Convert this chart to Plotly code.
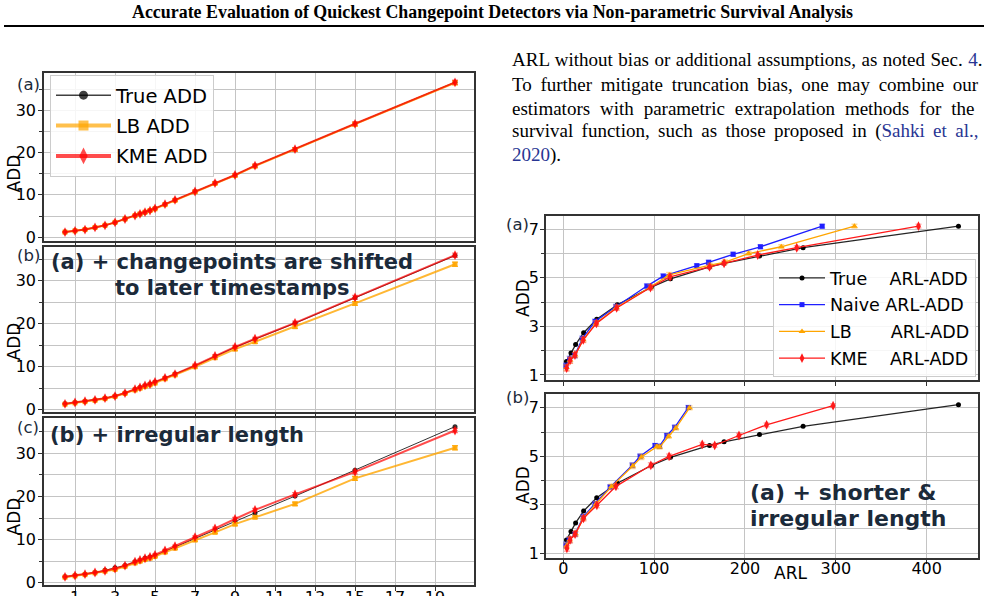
import plotly.graph_objects as go

W, H = 988, 596

# ---------------- data: left figure (threshold vs ADD) ----------------
thr = [0.5, 1, 1.5, 2, 2.5, 3, 3.5, 4, 4.25, 4.5, 4.75, 5, 5.5, 6, 7, 8, 9, 10, 12, 15, 20]

a_true = [1.2, 1.5, 1.8, 2.3, 2.8, 3.5, 4.3, 5.1, 5.5, 5.9, 6.3, 6.8, 7.8, 8.8, 10.8, 12.8, 14.7, 16.9, 20.8, 26.8, 36.6]
a_lb   = [1.2, 1.5, 1.8, 2.3, 2.8, 3.5, 4.3, 5.1, 5.5, 5.9, 6.3, 6.7, 7.7, 8.7, 10.7, 12.7, 14.6, 16.8, 20.7, 26.7, 36.5]
a_kme  = [1.2, 1.5, 1.8, 2.3, 2.8, 3.5, 4.3, 5.1, 5.5, 5.9, 6.3, 6.8, 7.8, 8.8, 10.8, 12.8, 14.7, 16.9, 20.8, 26.8, 36.6]

b_true = [1.4, 1.7, 2.0, 2.3, 2.7, 3.2, 3.9, 4.7, 5.2, 5.6, 6.0, 6.4, 7.4, 8.3, 10.2, 12.4, 14.5, 16.4, 20.1, 26.0, 35.8]
b_lb   = [1.3, 1.6, 1.9, 2.2, 2.6, 3.1, 3.8, 4.6, 5.0, 5.4, 5.8, 6.2, 7.2, 8.1, 10.0, 12.1, 14.1, 15.8, 19.3, 24.7, 33.8]
b_kme  = [1.4, 1.7, 2.0, 2.3, 2.7, 3.2, 3.9, 4.8, 5.2, 5.7, 6.0, 6.5, 7.4, 8.3, 10.3, 12.5, 14.6, 16.5, 20.2, 26.1, 35.9]

c_true = [1.4, 1.7, 2.0, 2.4, 2.9, 3.5, 4.0, 4.9, 5.2, 5.7, 6.0, 6.3, 7.3, 8.3, 10.3, 12.2, 14.3, 16.2, 20.1, 26.1, 36.2]
c_lb   = [1.3, 1.6, 1.9, 2.3, 2.7, 3.1, 3.8, 4.6, 5.0, 5.4, 5.7, 6.1, 7.1, 8.0, 9.9, 11.7, 13.6, 15.2, 18.3, 24.2, 31.3]
c_kme  = [1.4, 1.7, 2.0, 2.4, 2.8, 3.3, 4.0, 4.9, 5.3, 5.7, 6.0, 6.5, 7.5, 8.5, 10.6, 12.6, 14.8, 16.9, 20.5, 25.7, 35.3]

err_lb  = [0.1, 0.1, 0.1, 0.1, 0.1, 0.15, 0.15, 0.2, 0.2, 0.2, 0.2, 0.2, 0.25, 0.25, 0.3, 0.3, 0.35, 0.35, 0.4, 0.45, 0.5]
err_kme = [0.1, 0.1, 0.1, 0.1, 0.1, 0.15, 0.15, 0.2, 0.2, 0.2, 0.2, 0.2, 0.25, 0.25, 0.3, 0.3, 0.35, 0.35, 0.4, 0.45, 0.5]

left_xticks = [1, 3, 5, 7, 9, 11, 13, 15, 17, 19]

# ---------------- data: right figure (ARL vs ADD) ----------------
ra_true_arl = [3.5, 8.5, 13.6, 22.4, 36.8, 59.5, 97, 118, 161, 177, 216, 264, 435]
ra_true_add = [1.55, 1.9, 2.25, 2.74, 3.29, 3.89, 4.62, 4.96, 5.45, 5.6, 5.9, 6.24, 7.13]

ra_naive_arl = [3, 7, 12.5, 21, 35, 58, 92, 110, 147, 160, 187, 217, 285]
ra_naive_add = [1.37, 1.65, 1.8, 2.5, 3.2, 3.81, 4.66, 5.07, 5.5, 5.64, 5.97, 6.28, 7.13]
ra_lb_arl = [3.5, 7.5, 13, 22, 36, 58.5, 96, 116.5, 161.5, 178, 204, 240, 320.5]
ra_lb_add = [1.3, 1.6, 1.82, 2.45, 3.13, 3.78, 4.62, 5.12, 5.52, 5.65, 6.0, 6.28, 7.13]
ra_kme_arl = [3.7, 7.5, 12.9, 22, 36.5, 58.8, 96, 117.5, 161, 177, 214, 257, 391]
ra_kme_add = [1.28, 1.6, 1.82, 2.44, 3.12, 3.76, 4.6, 5.04, 5.45, 5.6, 5.94, 6.24, 7.13]

rb_naive_arl = [3, 6.5, 13, 22, 35, 51.6, 76, 84.6, 101, 106, 114, 122.7, 137.7]
rb_naive_add = [1.34, 1.55, 1.79, 2.5, 3.05, 3.73, 4.63, 5.0, 5.45, 5.42, 5.86, 6.2, 7.02]
rb_lb_arl = [3.5, 7, 13.5, 22, 36, 53, 76.5, 86, 103, 106, 116, 124, 139]
rb_lb_add = [1.3, 1.55, 1.8, 2.45, 3.03, 3.75, 4.6, 4.97, 5.4, 5.38, 5.83, 6.17, 7.0]
rb_kme_arl = [4, 7.5, 13, 22.3, 37, 58, 96.4, 116.5, 153, 166.7, 193.4, 223.8, 297]
rb_kme_add = [1.2, 1.55, 1.79, 2.44, 2.98, 3.76, 4.63, 5.0, 5.49, 5.45, 5.86, 6.3, 7.09]

r_err = [0.12, 0.12, 0.1, 0.1, 0.1, 0.1, 0.1, 0.1, 0.08, 0.08, 0.08, 0.08, 0.08]

right_xticks = [0, 100, 200, 300, 400]

# ---------------- helpers ----------------
def dom_x(a, b):
    return [a / W, b / W]

def dom_y(top, bottom):
    return [1 - bottom / H, 1 - top / H]

GRID = "#c4c4c4"
FRAME = "#333333"
TXT = "#1b2a3a"
BLUE_LINK = "#283593"
NB = "\u00a0"

fig = go.Figure()

# ---------- left figure traces ----------
left_sets = [
    ("x", "y", a_true, a_lb, a_kme),
    ("x2", "y2", b_true, b_lb, b_kme),
    ("x3", "y3", c_true, c_lb, c_kme),
]
for xa, ya, t, lb, km in left_sets:
    fig.add_trace(go.Scatter(x=thr, y=t, xaxis=xa, yaxis=ya, mode="lines+markers",
                             line=dict(color="rgba(0,0,0,0.8)", width=1),
                             marker=dict(symbol="circle", size=5, color="rgba(0,0,0,0.8)"),
                             showlegend=False))
    fig.add_trace(go.Scatter(x=thr, y=lb, xaxis=xa, yaxis=ya, mode="lines+markers",
                             line=dict(color="rgba(255,165,0,0.8)", width=2),
                             marker=dict(symbol="square", size=5, color="rgba(255,165,0,0.9)"),
                             error_y=dict(type="data", array=err_lb, color="rgba(255,165,0,0.8)",
                                          thickness=1.2, width=3),
                             showlegend=False))
    fig.add_trace(go.Scatter(x=thr, y=km, xaxis=xa, yaxis=ya, mode="lines+markers",
                             line=dict(color="rgba(255,0,0,0.7)", width=2),
                             marker=dict(symbol="diamond-tall", size=7, color="rgba(255,0,0,0.85)"),
                             error_y=dict(type="data", array=err_kme, color="rgba(255,60,60,0.6)",
                                          thickness=1.2, width=3),
                             showlegend=False))

# legend proxies (left legend)
fig.add_trace(go.Scatter(x=[None], y=[None], xaxis="x", yaxis="y", mode="lines+markers",
                         name="True ADD", legend="legend", legendgroup="t",
                         line=dict(color="rgba(0,0,0,0.75)", width=1.5),
                         marker=dict(symbol="circle", size=9, color="rgba(0,0,0,0.75)")))
fig.add_trace(go.Scatter(x=[None], y=[None], xaxis="x", yaxis="y", mode="lines+markers",
                         name="LB ADD", legend="legend", legendgroup="l",
                         line=dict(color="rgba(255,165,0,0.7)", width=4),
                         marker=dict(symbol="square", size=10, color="rgba(255,165,0,0.7)")))
fig.add_trace(go.Scatter(x=[None], y=[None], xaxis="x", yaxis="y", mode="lines+markers",
                         name="KME ADD", legend="legend", legendgroup="k",
                         line=dict(color="rgba(255,0,0,0.7)", width=4),
                         marker=dict(symbol="diamond-tall", size=12, color="rgba(255,0,0,0.7)")))

# ---------- right figure traces ----------
right_sets = [
    ("x4", "y4", ra_naive_arl, ra_naive_add, ra_lb_arl, ra_lb_add, ra_kme_arl, ra_kme_add, True),
    ("x5", "y5", rb_naive_arl, rb_naive_add, rb_lb_arl, rb_lb_add, rb_kme_arl, rb_kme_add, False),
]
for xa, ya, na, nd, la, ld, ka, kd, show in right_sets:
    fig.add_trace(go.Scatter(x=ra_true_arl, y=ra_true_add, xaxis=xa, yaxis=ya, mode="lines+markers",
                             name="True" + NB * 4 + "ARL-ADD", legend="legend2", legendgroup="rt",
                             line=dict(color="rgba(0,0,0,0.85)", width=1.3),
                             marker=dict(symbol="circle", size=5, color="black"),
                             showlegend=show))
    fig.add_trace(go.Scatter(x=na, y=nd, xaxis=xa, yaxis=ya, mode="lines+markers",
                             name="Naive ARL-ADD", legend="legend2", legendgroup="rn",
                             line=dict(color="#1f1fff", width=1.3),
                             marker=dict(symbol="square", size=5, color="#1f1fff"),
                             error_y=dict(type="data", array=r_err, color="rgba(60,60,255,0.35)",
                                          thickness=1.5, width=3),
                             showlegend=show))
    fig.add_trace(go.Scatter(x=la, y=ld, xaxis=xa, yaxis=ya, mode="lines+markers",
                             name="LB" + NB * 7 + "ARL-ADD", legend="legend2", legendgroup="rl",
                             line=dict(color="#ffa500", width=1.3),
                             marker=dict(symbol="triangle-up", size=6, color="#ffa500"),
                             error_y=dict(type="data", array=r_err, color="rgba(255,165,0,0.4)",
                                          thickness=1.5, width=3),
                             showlegend=show))
    fig.add_trace(go.Scatter(x=ka, y=kd, xaxis=xa, yaxis=ya, mode="lines+markers",
                             name="KME" + NB * 4 + "ARL-ADD", legend="legend2", legendgroup="rk",
                             line=dict(color="#ff1a1a", width=1.3),
                             marker=dict(symbol="diamond-tall", size=7, color="#ff1a1a"),
                             error_y=dict(type="data", array=r_err, color="rgba(255,60,60,0.4)",
                                          thickness=1.5, width=3),
                             showlegend=show))

# ---------- axes ----------
tickfont = dict(family="DejaVu Sans", size=16, color="black")

def left_x(dom_y_anchor, labels):
    return dict(domain=dom_x(44, 474), range=[-0.55, 20.95], tickmode="array", tickvals=left_xticks,
                showticklabels=labels, ticks="outside", ticklen=4, tickcolor=FRAME, tickfont=tickfont,
                ticklabelstandoff=-7,
                showgrid=True, gridcolor=GRID, gridwidth=1, zeroline=False,
                showline=True, mirror=True, linecolor=FRAME, linewidth=1.5, anchor=dom_y_anchor,
                automargin=False)

def left_y(top, bottom, rng, anchor):
    return dict(domain=dom_y(top, bottom), range=rng, tickmode="linear", tick0=0, dtick=10,
                ticks="outside", ticklen=4, tickcolor=FRAME, tickfont=tickfont,
                ticklabelstandoff=-1,
                minor=dict(dtick=5, tick0=0, showgrid=True, gridcolor=GRID, ticks="outside",
                           ticklen=3, tickcolor=FRAME),
                showgrid=True, gridcolor=GRID, gridwidth=1, zeroline=False,
                showline=True, mirror=True, linecolor=FRAME, linewidth=1.5, anchor=anchor,
                automargin=False)

def right_x(anchor, labels):
    return dict(domain=dom_x(546, 978), range=[-19, 456.5], tickmode="array", tickvals=right_xticks,
                showticklabels=labels, ticks="outside", ticklen=4, tickcolor=FRAME, tickfont=tickfont,
                ticklabelstandoff=-9,
                showgrid=True, gridcolor=GRID, gridwidth=1, zeroline=False,
                showline=True, mirror=True, linecolor=FRAME, linewidth=1.5, anchor=anchor,
                automargin=False)

def right_y(top, bottom, anchor):
    return dict(domain=dom_y(top, bottom), range=[0.79, 7.56], tickmode="linear", tick0=1, dtick=2,
                ticks="outside", ticklen=4, tickcolor=FRAME, tickfont=tickfont,
                ticklabelstandoff=-2,
                minor=dict(dtick=1, tick0=0, showgrid=True, gridcolor=GRID, ticks="outside",
                           ticklen=3, tickcolor=FRAME),
                showgrid=True, gridcolor=GRID, gridwidth=1, zeroline=False,
                showline=True, mirror=True, linecolor=FRAME, linewidth=1.5, anchor=anchor,
                automargin=False)

fig.update_layout(
    xaxis=left_x("y", False),
    yaxis=left_y(73, 241, [-0.9, 38.8], "x"),
    xaxis2=left_x("y2", False),
    yaxis2=left_y(247, 412, [-0.5, 37.8], "x2"),
    xaxis3=left_x("y3", True),
    yaxis3=left_y(418, 585, [-0.5, 38.2], "x3"),
    xaxis4=right_x("y4", False),
    yaxis4=right_y(215.7, 380, "x4"),
    xaxis5=right_x("y5", True),
    yaxis5=right_y(394.3, 558.3, "x5"),
)

fig.update_layout(
    width=W, height=H, margin=dict(l=0, r=0, t=0, b=0),
    paper_bgcolor="white", plot_bgcolor="white",
    font=dict(family="DejaVu Sans", color="black"),
    legend=dict(x=50 / W, y=1 - 75 / H, xanchor="left", yanchor="top",
                bgcolor="rgba(255,255,255,0.85)", bordercolor="#cccccc", borderwidth=1,
                font=dict(family="DejaVu Sans", size=19.5, color="black"),
                itemwidth=55, tracegroupgap=2),
    legend2=dict(x=773 / W, y=1 - 259 / H, xanchor="left", yanchor="top",
                 bgcolor="rgba(255,255,255,0.85)", bordercolor="#cccccc", borderwidth=1,
                 font=dict(family="DejaVu Sans", size=17.5, color="black"),
                 itemwidth=46, tracegroupgap=1),
)

# ---------- annotations ----------
ann = []

def add_text(text, x, y, size, family="DejaVu Sans", color=TXT, xanchor="center", angle=0, bold=False):
    t = "<b>" + text + "</b>" if bold else text
    ann.append(dict(text=t, x=x / W, y=1 - y / H, xref="paper", yref="paper", showarrow=False,
                    xanchor=xanchor, yanchor="middle", textangle=angle,
                    font=dict(family=family, size=size, color=color)))

# header
add_text("Accurate Evaluation of Quickest Changepoint Detectors via Non-parametric Survival Analysis",
         492, 12, 17.9, family="Liberation Serif", color="black", bold=True)

# paragraph (justified by widening the word gaps)
def justify(words, extra):
    gap = " <span style='font-size:%.1fpx'>%s</span>" % (extra, NB) if extra > 0 else " "
    return gap.join(words)

para_words = [
    ["ARL", "without", "bias", "or", "additional", "assumptions,", "as", "noted", "Sec.",
     "<span style='color:%s'>4</span>." % BLUE_LINK],
    "To further mitigate truncation bias, one may combine our".split(" "),
    "estimators with parametric extrapolation methods for the".split(" "),
    ["survival", "function,", "such", "as", "those", "proposed", "in",
     "(<span style='color:%s'>Sahki" % BLUE_LINK, "et", "al.,</span>"],
    ["<span style='color:%s'>2020</span>)." % BLUE_LINK],
]
para_extra = [3, 15.5, 20.5, 14.5, 0]
para_y = [60, 84, 108, 131, 155]
for words, ex, yy in zip(para_words, para_extra, para_y):
    add_text(justify(words, ex), 510, yy, 19, family="Liberation Serif", color="black", xanchor="left")

# panel letters
add_text("(a)", 28, 85, 16.5)
add_text("(b)", 28, 255, 16.5)
add_text("(c)", 28, 427, 16.5)
add_text("(a)", 517, 225, 16.5)
add_text("(b)", 517, 397, 16.5)

# y labels
add_text("ADD", 13.5, 174, 17, color="black", angle=-90)
add_text("ADD", 13.5, 342, 17, color="black", angle=-90)
add_text("ADD", 13.5, 517, 17, color="black", angle=-90)
add_text("ADD", 523, 298, 17, color="black", angle=-90)
add_text("ADD", 523, 485, 17, color="black", angle=-90)

# x label right
add_text("ARL", 790, 573, 17, color="black")

# in-panel notes
add_text("(a) + changepoints are shifted", 232, 262, 21, bold=True)
add_text("to later timestamps", 232, 288, 21, bold=True)
add_text("(b) + irregular length", 48, 435, 21, bold=True, xanchor="left")
add_text("(a) + shorter &amp;", 748, 492, 22, bold=True, xanchor="left")
add_text("irregular length", 748, 518, 22, bold=True, xanchor="left")

fig.update_layout(annotations=ann)

# header rule
fig.add_shape(type="line", xref="paper", yref="paper", x0=4 / W, x1=984 / W,
              y0=1 - 26 / H, y1=1 - 26 / H, line=dict(color="black", width=2))

fig.write_html("out.html")
